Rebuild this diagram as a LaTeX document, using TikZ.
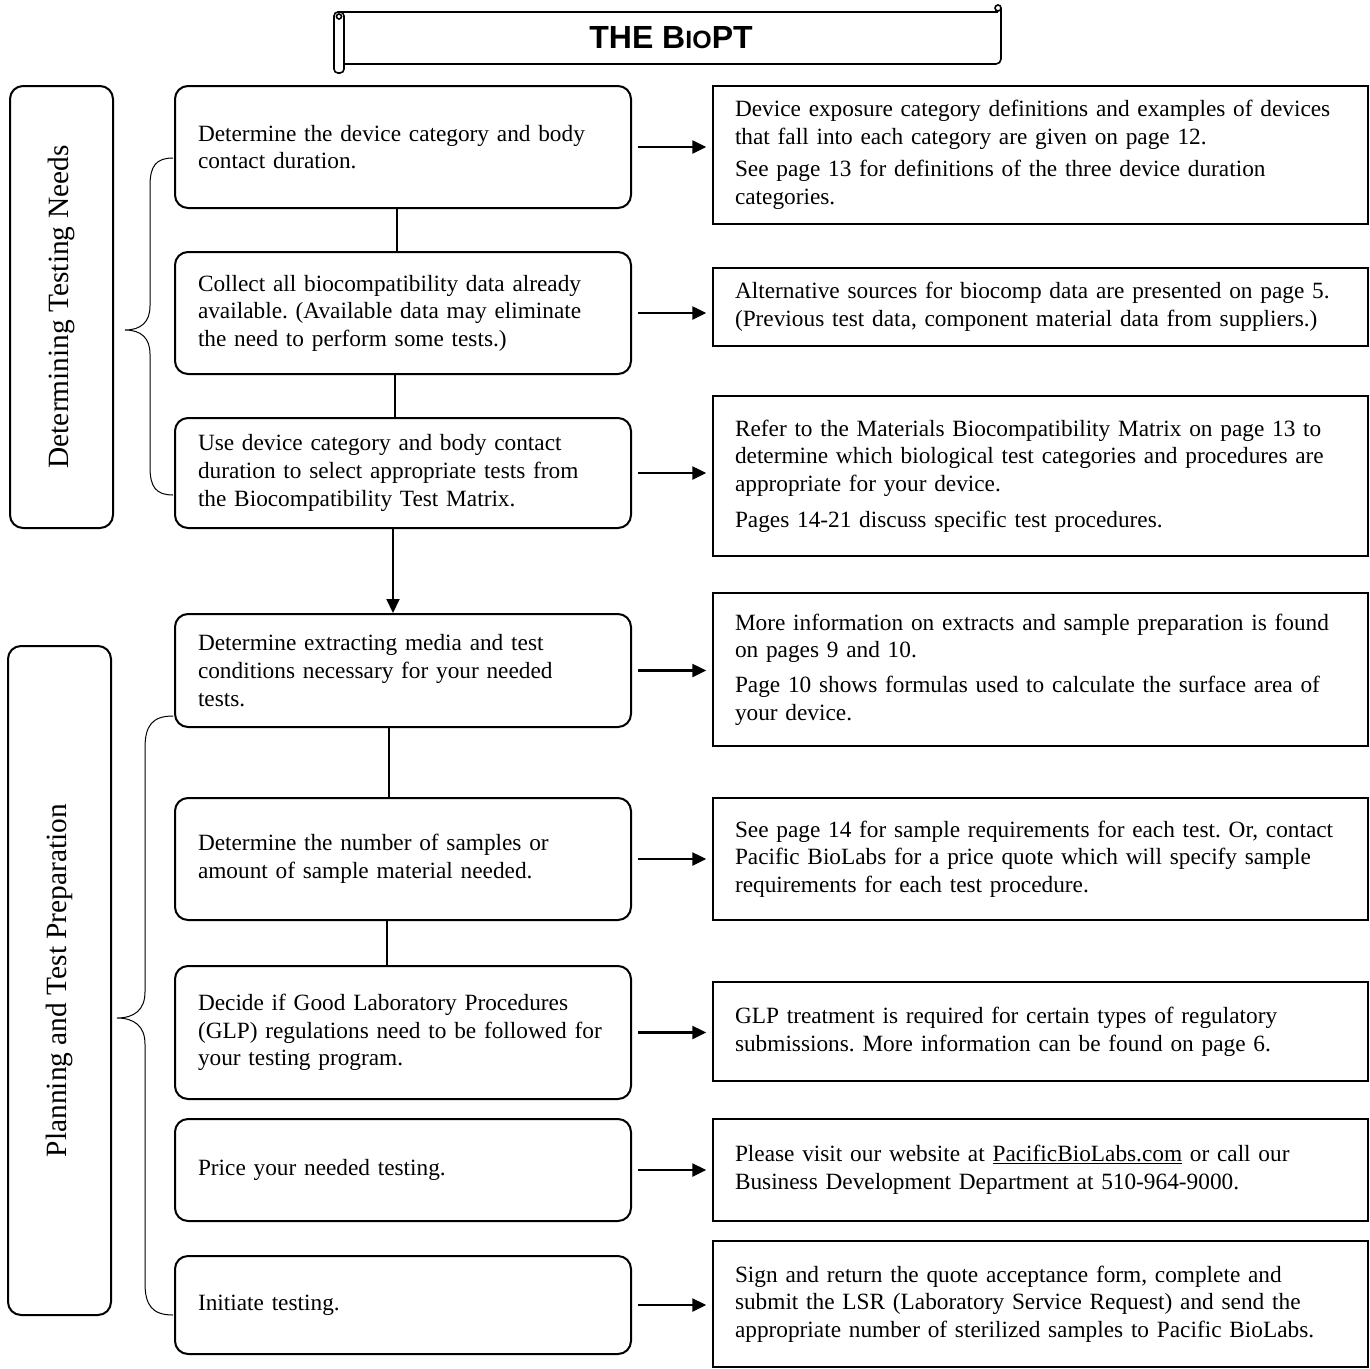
\documentclass[tikz,border=0pt]{standalone}
\usepackage{fontspec}
\setmainfont{Liberation Serif}
\newfontfamily\titlefont{Liberation Sans}
\usetikzlibrary{arrows.meta,calc}
\frenchspacing
\hyphenpenalty=10000
\exhyphenpenalty=10000
\begin{document}
\begin{tikzpicture}[x=1pt,y=-1pt,
  txt/.style={font=\fontsize{23.3}{27.6}\selectfont},
  stepbox/.style={txt,draw,line width=2pt,rounded corners=13pt,minimum width=456pt,
    text width=410pt,inner xsep=23pt,inner ysep=0pt,align=left},
  infobox/.style={txt,draw,line width=1.5pt,minimum width=655pt,
    text width=611pt,inner xsep=22pt,inner ysep=0pt,align=left},
  phasebox/.style={draw,line width=2pt,rounded corners=13pt,rotate=90,
    font=\fontsize{29.4}{33}\selectfont,inner sep=0pt},
  link/.style={line width=2pt},
  arr/.style={line width=2.5pt,-{Triangle[length=14pt,width=13pt]}},
  brace/.style={line width=1pt},
  scroll/.style={line width=1.6pt}
]
\useasboundingbox (0,0) rectangle (1370,1368);

% title scroll
\draw[scroll] (338,12) -- (998,12);
\draw[scroll] (344,64) -- (996,64) to[out=0,in=-90] (1001,59) -- (1001,8);
\draw[scroll] (998,8) circle (3pt);
\draw[scroll,rounded corners=4pt,fill=white] (334,12) rectangle (344,73);
\draw[scroll] (339,16.5) circle (2.5pt);
\node[font=\titlefont\bfseries\fontsize{32}{32}\selectfont] (title) at (671,38)
  {THE B{\fontsize{25}{25}\selectfont IO}PT};

% phase boxes
\node[phasebox,minimum width=442pt,minimum height=103pt] (p1) at (61.5,307) {Determining Testing Needs};
\node[phasebox,minimum width=669pt,minimum height=103pt] (p2) at (59.5,980.5) {Planning and Test Preparation};

% steps
\node[stepbox,minimum height=122pt] (s1) at (403,147) {Determine the device category and body\\contact duration.};
\node[stepbox,minimum height=122pt] (s2) at (403,313) {Collect all biocompatibility data already\\available. (Available data may eliminate\\the need to perform some tests.)};
\node[stepbox,minimum height=110pt] (s3) at (403,473) {Use device category and body contact\\duration to select appropriate tests from\\the Biocompatibility Test Matrix.};
\node[stepbox,minimum height=113pt] (s4) at (403,670.5) {Determine extracting media and test\\conditions necessary for your needed\\tests.};
\node[stepbox,minimum height=122pt] (s5) at (403,859) {Determine the number of samples or\\amount of sample material needed.};
\node[stepbox,minimum height=133pt] (s6) at (403,1032.5) {Decide if Good Laboratory Procedures\\(GLP) regulations need to be followed for\\your testing program.};
\node[stepbox,minimum height=102pt] (s7) at (403,1170) {Price your needed testing.};
\node[stepbox,minimum height=98pt] (s8) at (403,1305) {Initiate testing.};

% info boxes
\node[infobox,minimum height=138pt] (r1) at (1040.5,155) {Device exposure category definitions and examples of devices\\that fall into each category are given on page 12.\\[5pt]See page 13 for definitions of the three device duration\\categories.};
\node[infobox,minimum height=78pt] (r2) at (1040.5,307) {Alternative sources for biocomp data are presented on page 5.\\(Previous test data, component material data from suppliers.)};
\node[infobox,minimum height=160pt] (r3) at (1040.5,476) {Refer to the Materials Biocompatibility Matrix on page 13 to\\determine which biological test categories and procedures are\\appropriate for your device.\\[8pt]Pages 14-21 discuss specific test procedures.};
\node[infobox,minimum height=153pt] (r4) at (1040.5,669.5) {More information on extracts and sample preparation is found\\on pages 9 and 10.\\[7pt]Page 10 shows formulas used to calculate the surface area of\\your device.};
\node[infobox,minimum height=122pt] (r5) at (1040.5,859) {See page 14 for sample requirements for each test. Or, contact\\Pacific BioLabs for a price quote which will specify sample\\requirements for each test procedure.};
\node[infobox,minimum height=99pt] (r6) at (1040.5,1031.5) {GLP treatment is required for certain types of regulatory\\submissions. More information can be found on page 6.};
\node[infobox,minimum height=102pt] (r7) at (1040.5,1170) {Please visit our website at \underline{PacificBioLabs.com} or call our\\Business Development Department at 510-964-9000.};
\node[infobox,minimum height=126pt] (r8) at (1040.5,1304) {Sign and return the quote acceptance form, complete and\\submit the LSR (Laboratory Service Request) and send the\\appropriate number of sterilized samples to Pacific BioLabs.};

% vertical links
\draw[link] ([xshift=-6pt]s1.south) -- ([xshift=-6pt]s1.south |- s2.north);
\draw[link] ([xshift=-8pt]s2.south) -- ([xshift=-8pt]s2.south |- s3.north);
\draw[arr,line width=2pt] ([xshift=-10pt]s3.south) -- ([xshift=-10pt]s3.south |- s4.north);
\draw[link] ([xshift=-14pt]s4.south) -- ([xshift=-14pt]s4.south |- s5.north);
\draw[link] ([xshift=-16pt]s5.south) -- ([xshift=-16pt]s5.south |- s6.north);

% horizontal arrows
\foreach \i in {1,...,8}{
  \draw[arr] ([xshift=6pt]s\i.east) -- ([xshift=-6pt]s\i.east -| r\i.west);
}

% braces
\draw[brace] (173,158) .. controls (156,158) and (150,166) .. (150,186) -- (150,306)
  .. controls (150,322) and (141,330) .. (125,330)
  .. controls (141,330) and (150,338) .. (150,354) -- (150,467)
  .. controls (150,487) and (156,495) .. (173,495);
\draw[brace] (173,716) .. controls (152,716) and (145,726) .. (145,748) -- (145,992)
  .. controls (145,1010) and (134,1018) .. (117,1018)
  .. controls (134,1018) and (145,1026) .. (145,1044) -- (145,1283)
  .. controls (145,1305) and (152,1315) .. (173,1315);
\end{tikzpicture}
\end{document}
